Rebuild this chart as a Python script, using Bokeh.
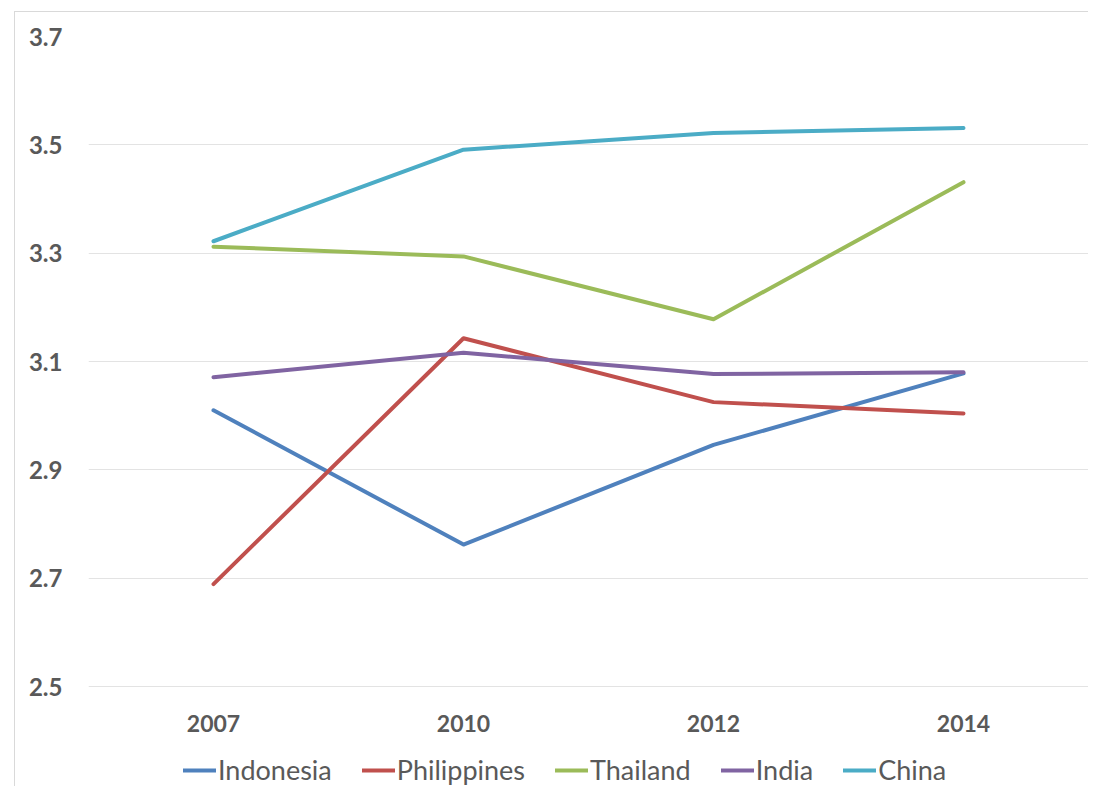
from bokeh.plotting import figure
from bokeh.models import Range1d, FixedTicker, Legend, LegendItem, NumeralTickFormatter
from bokeh.core.properties import value
from bokeh.embed import file_html
from bokeh.resources import INLINE

years = ["2007", "2010", "2012", "2014"]
indonesia = [3.010, 2.762, 2.946, 3.078]
philippines = [2.689, 3.143, 3.025, 3.004]
thailand = [3.312, 3.294, 3.178, 3.431]
india = [3.071, 3.116, 3.077, 3.080]
china = [3.322, 3.491, 3.522, 3.531]

series_names = ["Indonesia", "Philippines", "Thailand", "India", "China"]
series_values = [indonesia, philippines, thailand, india, china]
colors = ["#4F81BD", "#C0504D", "#9BBB59", "#8064A2", "#4BACC6"]
y_ticks = [2.5, 2.7, 2.9, 3.1, 3.3, 3.5, 3.7]

TEXT = "#595959"

# plot area: 650 px for the 2.5-3.7 scale, plus 100 px below it for the
# category labels and the legend (kept inside the frame)
AXIS_PX = 650
EXTRA_PX = 100
y_span = y_ticks[-1] - y_ticks[0]
y_lo = y_ticks[0] - EXTRA_PX / AXIS_PX * y_span

p = figure(
    x_range=years,
    y_range=Range1d(y_lo, y_ticks[-1]),
    x_axis_location=None,
    frame_width=1000,
    frame_height=AXIS_PX + EXTRA_PX,
    min_border_left=73,
    min_border_right=0,
    min_border_top=24,
    min_border_bottom=0,
    output_backend="svg",
    toolbar_location=None,
)
p.styles = {
    "margin-left": "14px",
    "margin-top": "11px",
    "border-left": "1px solid #d9d9d9",
    "border-top": "1px solid #d9d9d9",
}
p.outline_line_color = None
p.background_fill_color = "white"
p.border_fill_color = "white"

items = []
for name, vals, col in zip(series_names, series_values, colors):
    r = p.line(years, vals, line_color=col, line_width=4,
               line_join="round", line_cap="round")
    items.append(LegendItem(label=name, renderers=[r]))

# category (x) labels just below the 2.5 baseline
p.text(x=years, y=[y_ticks[0]] * len(years), text=years,
       y_offset=37, text_align="center", text_baseline="middle",
       text_font=value("Lato"), text_font_style="bold",
       text_font_size="23px", text_color=TEXT)

p.xgrid.grid_line_color = None
p.ygrid.grid_line_color = "#e3e3e3"
p.ygrid.grid_line_width = 1

p.yaxis.ticker = FixedTicker(ticks=y_ticks)
p.yaxis.formatter = NumeralTickFormatter(format="0.0")
ax = p.yaxis[0]
ax.axis_line_color = None
ax.major_tick_line_color = None
ax.minor_tick_line_color = None
ax.major_tick_out = 0
ax.major_tick_in = 0
ax.minor_tick_out = 0
ax.major_label_text_font = "Lato"
ax.major_label_text_font_style = "bold"
ax.major_label_text_font_size = "24px"
ax.major_label_text_color = TEXT
ax.major_label_standoff = 26

legend = Legend(
    items=items,
    orientation="horizontal",
    location=(95, 0),
    glyph_width=33,
    glyph_height=20,
    label_standoff=2,
    spacing=30,
    padding=0,
    margin=0,
    border_line_color=None,
    background_fill_alpha=0,
    label_text_font="Lato",
    label_text_font_size="27px",
    label_text_color=TEXT,
)
p.add_layout(legend, "center")

open("out.html", "w").write(file_html(p, INLINE))
